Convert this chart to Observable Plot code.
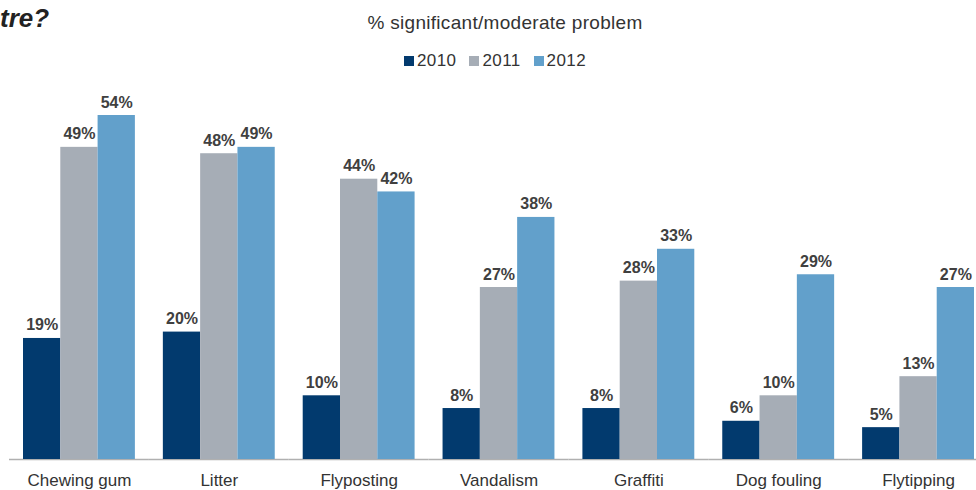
<!DOCTYPE html>
<html>
<head>
<meta charset="utf-8">
<script src="https://cdn.jsdelivr.net/npm/d3@7"></script>
<script src="https://cdn.jsdelivr.net/npm/@observablehq/plot@0.6"></script>
<style>
  html, body { margin: 0; padding: 0; background: #fff; }
  #wrap { position: relative; width: 976px; height: 490px; overflow: hidden; font-family: "Liberation Sans", Arial, sans-serif; color: #333; }
  #title { position: absolute; left: 0px; top: 3px; font-size: 26px; font-weight: bold; font-style: italic; color: #222; }
  #subtitle { position: absolute; left: 0; width: 1010px; top: 12px; text-align: center; font-size: 19px; letter-spacing: 0.3px; color: #333; }
  #legend { position: absolute; left: 404px; top: 51px; font-size: 17px; letter-spacing: 0.4px; color: #333; display: flex; gap: 13px; }
  #legend span.item { display: inline-flex; align-items: center; }
  #legend span.sw { display: inline-block; width: 10px; height: 10px; margin-right: 3px; }
  #chart { position: absolute; left: 0; top: 80px; }
</style>
</head>
<body>
<div id="wrap">
  <div id="title">tre?</div>
  <div id="subtitle">% significant/moderate problem</div>
  <div id="legend"></div>
  <div id="chart"></div>
</div>
<script>
const categories = ["Chewing gum", "Litter", "Flyposting", "Vandalism", "Graffiti", "Dog fouling", "Flytipping"];
const years = ["2010", "2011", "2012"];
const colors = ["#023a6e", "#a6adb6", "#62a0cb"];
const values2010 = [19, 20, 10, 8, 8, 6, 5];
const values2011 = [49, 48, 44, 27, 28, 10, 13];
const values2012 = [54, 49, 42, 38, 33, 29, 27];

const series = [values2010, values2011, values2012];
const data = [];
categories.forEach((c, i) => {
  years.forEach((y, j) => data.push({category: c, year: y, value: series[j][i]}));
});

const legend = document.getElementById("legend");
years.forEach((y, j) => {
  const it = document.createElement("span");
  it.className = "item";
  it.innerHTML = `<span class="sw" style="background:${colors[j]}"></span>${y}`;
  legend.appendChild(it);
});

const chart = Plot.plot({
  width: 976,
  height: 410,
  marginLeft: 23,
  marginRight: 2,
  marginTop: 35,
  marginBottom: 31,
  style: {fontFamily: "'Liberation Sans', Arial, sans-serif", fontSize: "17px", color: "#333", background: "transparent"},
  fx: {domain: categories, paddingInner: 0.2, paddingOuter: 0, round: false, axis: "bottom", label: null, tickSize: 0, tickPadding: 14},
  x: {domain: years, padding: 0, round: false, axis: null},
  y: {domain: [0, 54], axis: null},
  color: {domain: years, range: colors},
  marks: [
    Plot.ruleY([0], {stroke: "#b0b0b0", strokeWidth: 1.5, insetLeft: -14, insetRight: -14}),
    Plot.barY(data, {fx: "category", x: "year", y: "value", fill: "year"}),
    Plot.text(data, {fx: "category", x: "year", y: "value", text: d => d.value + "%", lineAnchor: "bottom", dy: -8, fontWeight: "bold", fontSize: 16, fill: "#404040"})
  ]
});
document.getElementById("chart").appendChild(chart);
</script>
</body>
</html>
